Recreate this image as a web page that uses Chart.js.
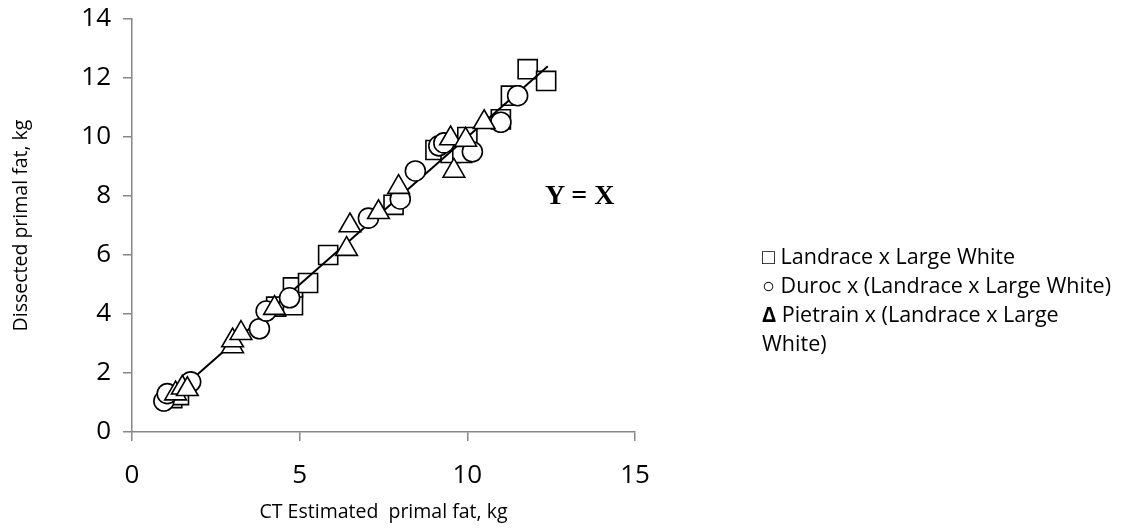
<!DOCTYPE html>
<html>
<head>
<meta charset="utf-8">
<script src="https://cdn.jsdelivr.net/npm/chart.js@4"></script>
<style>
  html, body { margin: 0; padding: 0; background: #fff; }
  #wrap { position: relative; width: 1133px; height: 528px; }
  #legende {
    position: absolute; left: 762px; top: 241px;
    font-family: "Open Sans", sans-serif; font-size: 21.5px; line-height: 29px;
    color: #000; white-space: nowrap;
  }
  #legende b { font-weight: bold; }
  #yx {
    position: absolute; left: 545px; top: 179px;
    font-family: "Liberation Serif", serif; font-weight: bold; font-size: 28px;
  }
</style>
</head>
<body>
<div id="wrap">
  <canvas id="graphe" width="1133" height="528"></canvas>
  <div id="yx">Y = X</div>
  <div id="legende">
    <div>&#9633; Landrace x Large White</div>
    <div>&#9675; Duroc x (Landrace x Large White)</div>
    <div><b>&Delta;</b> Pietrain x (Landrace x Large</div>
    <div>White)</div>
  </div>
</div>
<script>
// Landrace x Large White (carrés)
const lwX = [1.2, 1.4, 4.3, 4.8, 4.8, 5.25, 5.85, 7.8, 9.05, 9.5, 9.85, 10.0, 11.0, 11.3, 11.8, 12.35];
const lwY = [1.15, 1.25, 4.25, 4.3, 4.9, 5.05, 6.0, 7.7, 9.56, 9.46, 9.46, 10.0, 10.6, 11.4, 12.3, 11.9];
// Duroc x (Landrace x Large White) (cercles)
const durX = [0.95, 1.05, 1.75, 3.8, 4.0, 4.7, 7.05, 8.0, 8.45, 9.15, 9.3, 10.15, 11.0, 11.5];
const durY = [1.05, 1.3, 1.7, 3.5, 4.1, 4.55, 7.25, 7.9, 8.85, 9.7, 9.8, 9.5, 10.5, 11.4];
// Pietrain x (Landrace x Large White) (triangles)
const pieX = [1.3, 1.5, 1.65, 3.0, 3.0, 3.25, 4.25, 6.4, 6.5, 7.35, 7.95, 9.5, 9.6, 9.95, 10.5];
const pieY = [1.3, 1.5, 1.45, 2.9, 3.1, 3.35, 4.2, 6.2, 7.0, 7.45, 8.3, 9.95, 8.85, 9.9, 10.5];
// Droite Y = X
const ligneX = [1.0, 12.4];
const ligneY = [1.0, 12.4];

const xTicks = [0, 5, 10, 15];
const yTicks = [0, 2, 4, 6, 8, 10, 12, 14];

function points(xs, ys) {
  return xs.map(function (x, i) { return { x: x, y: ys[i] }; });
}

const police = '"Open Sans", sans-serif';
const gris = '#868686';

function serie(data, style, rayon, ordre) {
  return {
    data: data,
    pointStyle: style,
    pointRadius: rayon,
    pointHoverRadius: rayon,
    pointBorderWidth: 1.6,
    borderColor: '#000',
    backgroundColor: '#fff',
    showLine: false,
    order: ordre
  };
}

new Chart(document.getElementById('graphe').getContext('2d'), {
  type: 'scatter',
  data: {
    datasets: [
      serie(points(lwX, lwY), 'rect', 13.5, 4),
      {
        data: points(ligneX, ligneY),
        showLine: true,
        pointRadius: 0,
        borderColor: '#000',
        borderWidth: 2,
        order: 3
      },
      serie(points(durX, durY), 'circle', 10, 2),
      serie(points(pieX, pieY), 'triangle', 12.5, 1)
    ]
  },
  options: {
    responsive: false,
    animation: false,
    layout: { padding: { left: 0, right: 498, top: 19, bottom: 0 } },
    plugins: { legend: { display: false }, tooltip: { enabled: false } },
    scales: {
      x: {
        type: 'linear', min: 0, max: 15,
        afterBuildTicks: function (s) { s.ticks = xTicks.map(function (v) { return { value: v }; }); },
        afterFit: function (s) { s.height = 96; },
        border: { color: gris, width: 1.5 },
        grid: { drawOnChartArea: false, color: gris, lineWidth: 1.5, tickLength: 9 },
        ticks: { color: '#000', font: { family: police, size: 26 }, padding: 19, maxRotation: 0 },
        title: { display: true, text: 'CT Estimated  primal fat, kg', color: '#000',
                 font: { family: police, size: 19.5 }, padding: { top: 0, bottom: 4 } }
      },
      y: {
        type: 'linear', min: 0, max: 14,
        afterBuildTicks: function (s) { s.ticks = yTicks.map(function (v) { return { value: v }; }); },
        afterFit: function (s) { s.width = 132; s.paddingTop = 0; s.paddingBottom = 0; },
        border: { color: gris, width: 1.5 },
        grid: { drawOnChartArea: false, color: gris, lineWidth: 1.5, tickLength: 9 },
        ticks: { color: '#000', font: { family: police, size: 26 }, padding: 12 },
        title: { display: true, text: 'Dissected primal fat, kg', color: '#000',
                 font: { family: police, size: 19.5 }, padding: { top: 10, bottom: 0 } }
      }
    }
  }
});
</script>
</body>
</html>
